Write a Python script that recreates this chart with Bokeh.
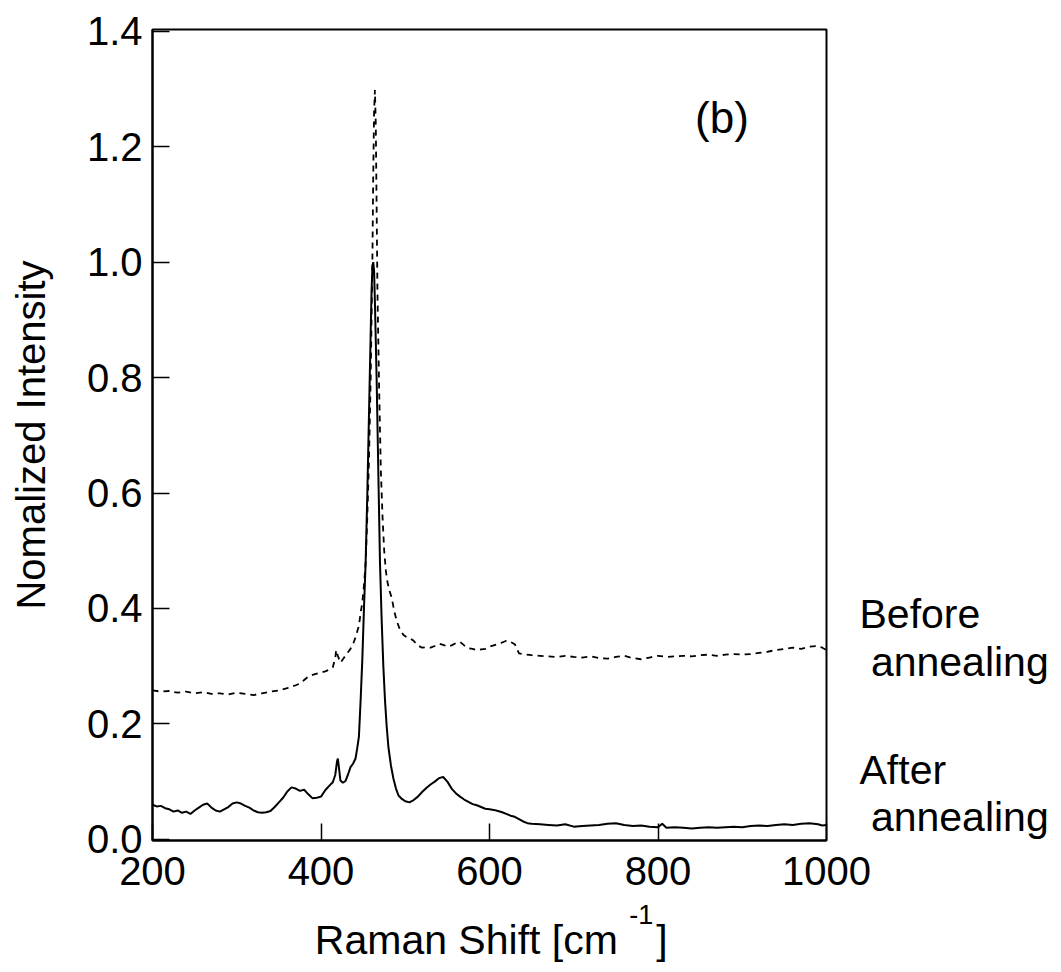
from bokeh.plotting import figure
from bokeh.models import Label, FixedTicker, Range1d, PrintfTickFormatter, LinearAxis
from bokeh.embed import file_html
from bokeh.resources import INLINE

# ---- data ----
after_x = [200, 205, 210, 215, 220, 225, 230, 235, 240, 245, 250, 255, 260, 265, 270, 275,
           280, 285, 290, 295, 300, 305, 310, 315, 320, 325, 330, 335, 340, 345, 350, 355,
           360, 365, 370, 375, 380, 385, 390, 395, 400, 405, 410, 414, 417, 419, 420, 421,
           423, 426, 429, 432, 435, 438, 441, 443, 445, 447, 449, 451, 453, 455, 457, 459,
           460, 461, 462, 463, 464, 466, 468, 470, 472, 474, 476, 478, 480, 483, 486, 489,
           492, 496, 500, 505, 510, 515, 520, 525, 530, 535, 540, 545, 550, 555, 560, 565,
           570, 575, 580, 585, 590, 595, 600, 605, 610, 615, 620, 625, 630, 635, 640, 645,
           650, 660, 670, 680, 690, 700, 710, 720, 730, 740, 750, 760, 770, 780, 790, 800,
           805, 810, 820, 830, 840, 850, 860, 870, 880, 890, 900, 910, 920, 930, 940, 950,
           960, 970, 980, 990, 995, 1000]
after_y = [0.060, 0.057, 0.058, 0.054, 0.052, 0.048, 0.050, 0.046, 0.048, 0.044, 0.050, 0.055,
           0.060, 0.062, 0.055, 0.050, 0.048, 0.052, 0.056, 0.062, 0.064, 0.062, 0.058, 0.055,
           0.050, 0.047, 0.046, 0.047, 0.049, 0.056, 0.064, 0.072, 0.083, 0.090, 0.088, 0.084,
           0.086, 0.078, 0.071, 0.072, 0.074, 0.085, 0.093, 0.099, 0.112, 0.135, 0.140, 0.128,
           0.102, 0.098, 0.101, 0.112, 0.125, 0.131, 0.140, 0.158, 0.178, 0.240, 0.310, 0.400,
           0.480, 0.600, 0.740, 0.880, 0.950, 0.990, 1.000, 0.985, 0.930, 0.800, 0.640, 0.480,
           0.380, 0.300, 0.240, 0.195, 0.160, 0.128, 0.105, 0.088, 0.076, 0.070, 0.066, 0.064,
           0.068, 0.074, 0.082, 0.089, 0.095, 0.100, 0.106, 0.108, 0.100, 0.088, 0.080, 0.074,
           0.069, 0.065, 0.061, 0.059, 0.056, 0.053, 0.052, 0.051, 0.049, 0.047, 0.044, 0.041,
           0.039, 0.035, 0.031, 0.028, 0.027, 0.026, 0.025, 0.024, 0.026, 0.022, 0.023, 0.024,
           0.025, 0.027, 0.028, 0.025, 0.023, 0.024, 0.022, 0.021, 0.027, 0.020, 0.021, 0.020,
           0.019, 0.020, 0.021, 0.020, 0.021, 0.022, 0.021, 0.023, 0.024, 0.023, 0.025, 0.026,
           0.025, 0.027, 0.028, 0.026, 0.024, 0.025]

before_x = [200, 210, 220, 230, 240, 250, 260, 270, 280, 290, 300, 310, 320, 330, 340, 350,
            360, 370, 375, 380, 385, 390, 395, 400, 405, 410, 414, 417, 418, 420, 423, 426,
            429, 432, 435, 438, 441, 443, 445, 447, 449, 451, 453, 455, 457, 459, 461, 462,
            463, 464, 465, 466, 467, 469, 471, 473, 475, 477, 479, 481, 484, 487, 490, 494,
            498, 502, 506, 510, 515, 520, 525, 530, 535, 540, 545, 550, 555, 560, 565, 570,
            575, 580, 585, 590, 595, 600, 605, 610, 615, 620, 625, 630, 635, 640, 650, 660,
            670, 680, 690, 700, 710, 720, 730, 740, 750, 760, 770, 780, 790, 800, 810, 820,
            830, 840, 850, 860, 870, 880, 890, 900, 910, 920, 930, 940, 950, 960, 970, 980,
            990, 995, 1000]
before_y = [0.258, 0.256, 0.257, 0.254, 0.256, 0.253, 0.255, 0.252, 0.253, 0.251, 0.254, 0.252,
            0.250, 0.253, 0.256, 0.258, 0.262, 0.267, 0.270, 0.276, 0.282, 0.285, 0.287, 0.289,
            0.291, 0.294, 0.298, 0.315, 0.328, 0.318, 0.306, 0.312, 0.318, 0.324, 0.330, 0.338,
            0.350, 0.360, 0.370, 0.392, 0.410, 0.440, 0.480, 0.560, 0.660, 0.800, 1.000, 1.150,
            1.260, 1.298, 1.240, 1.100, 0.950, 0.780, 0.640, 0.560, 0.500, 0.465, 0.445, 0.432,
            0.418, 0.395, 0.378, 0.362, 0.354, 0.350, 0.348, 0.344, 0.336, 0.332, 0.333, 0.332,
            0.335, 0.339, 0.337, 0.334, 0.336, 0.340, 0.342, 0.336, 0.331, 0.330, 0.328, 0.329,
            0.330, 0.334, 0.336, 0.338, 0.341, 0.344, 0.342, 0.338, 0.322, 0.321, 0.319, 0.318,
            0.317, 0.316, 0.318, 0.316, 0.315, 0.317, 0.314, 0.313, 0.316, 0.318, 0.314, 0.312,
            0.315, 0.318, 0.316, 0.317, 0.318, 0.317, 0.319, 0.320, 0.318, 0.320, 0.321, 0.320,
            0.321, 0.323, 0.325, 0.328, 0.330, 0.332, 0.330, 0.334, 0.335, 0.332, 0.328]

x_ticks = [200, 400, 600, 800, 1000]
y_ticks = [0.0, 0.2, 0.4, 0.6, 0.8, 1.0, 1.2, 1.4]
series_names = ["Before", "annealing", "After", "annealing"]
panel_label = "(b)"
x_title_parts = ["Raman Shift [cm", "-1", "]"]
y_title = "Nomalized Intensity"

FONT = "Liberation Sans"
W = 1061
H = 972

p = figure(width=W, height=H, output_backend="svg", toolbar_location=None,
           x_range=Range1d(200, 1000), y_range=Range1d(-0.002, 1.403),
           min_border_left=152, min_border_right=W - 826, min_border_top=29,
           min_border_bottom=H - 840)
p.background_fill_color = "white"
p.border_fill_color = "white"
p.grid.visible = False
p.outline_line_color = "black"
p.outline_line_width = 2

p.line(before_x, before_y, line_color="black", line_width=1.8, line_dash="6 5")
p.line(after_x, after_y, line_color="black", line_width=2)

p.xaxis.ticker = FixedTicker(ticks=x_ticks)
p.yaxis.ticker = FixedTicker(ticks=y_ticks)
p.yaxis.formatter = PrintfTickFormatter(format="%.1f")
for ax in (p.xaxis[0], p.yaxis[0]):
    ax.axis_line_color = "black"
    ax.axis_line_width = 2
    ax.major_tick_in = 17
    ax.major_tick_out = 0
    ax.major_tick_line_width = 1.5
    ax.major_tick_line_color = "black"
    ax.minor_tick_line_color = None
    ax.major_label_text_font = FONT
    ax.major_label_text_font_size = "40px"
    ax.major_label_text_color = "black"
p.xaxis.major_label_standoff = 16
p.yaxis.major_label_standoff = 10

p.yaxis.axis_label = y_title
p.yaxis.axis_label_text_font = FONT
p.yaxis.axis_label_text_font_size = "40px"
p.yaxis.axis_label_text_font_style = "normal"
p.yaxis.axis_label_text_color = "black"
p.yaxis.axis_label_standoff = 31

p.add_layout(Label(x=844, y=1.25, text=panel_label, text_font=FONT, text_font_size="44px",
                   text_color="black", text_align="left", text_baseline="alphabetic"))


def bare(axis, size, standoff):
    axis.axis_line_color = None
    axis.major_tick_line_color = None
    axis.minor_tick_line_color = None
    axis.major_label_standoff = standoff
    axis.major_label_text_font = FONT
    axis.major_label_text_font_size = size
    axis.major_label_text_color = "black"
    return axis


# series names on the right, set as labels of a bare right-hand axis (page-pixel range)
p.extra_y_ranges = {"px": Range1d(start=840, end=29)}
name_pos = [613, 661, 769, 816]
overrides = {}
for i, (pos, name) in enumerate(zip(name_pos, series_names)):
    overrides[pos] = ("\u00a0" + name) if i % 2 == 1 else name
rax = LinearAxis(y_range_name="px", ticker=FixedTicker(ticks=name_pos),
                 major_label_overrides=overrides)
p.add_layout(bare(rax, "41px", 27), "right")

# x-axis title with a raised exponent: two bare axes stacked under the tick labels
sup_pos = [780.2]
sup_ax = LinearAxis(ticker=FixedTicker(ticks=sup_pos),
                    major_label_overrides={sup_pos[0]: x_title_parts[1]})
p.add_layout(bare(sup_ax, "27px", 11), "below")

title_pos = [572.5, 804.7]
title_ax = LinearAxis(ticker=FixedTicker(ticks=title_pos),
                      major_label_overrides={title_pos[0]: x_title_parts[0],
                                             title_pos[1]: x_title_parts[2]})
p.add_layout(bare(title_ax, "41px", -16), "below")

open("out.html", "w").write(file_html(p, INLINE))
